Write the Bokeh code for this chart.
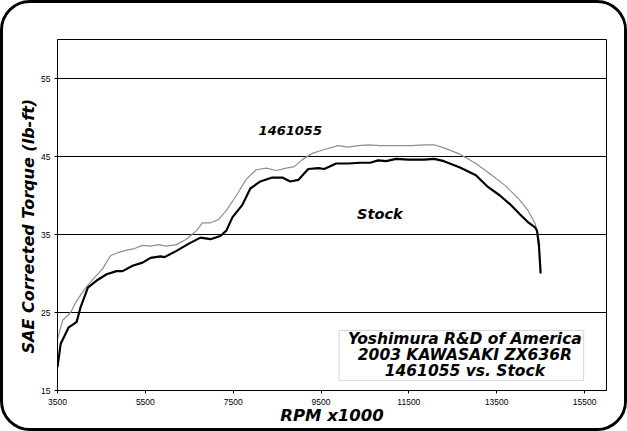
from bokeh.plotting import figure
from bokeh.models import FixedTicker, Range1d, BoxAnnotation, Label
from bokeh.embed import file_html
from bokeh.resources import INLINE

# ---- data ----
stock_rpm = [3500, 3573, 3755, 3891, 3936, 4027, 4191, 4391, 4618, 4845, 4982, 5209, 5436,
             5618, 5845, 5936, 6209, 6482, 6755, 6982, 7209, 7345, 7482, 7709, 7891, 8118,
             8391, 8618, 8800, 8982, 9209, 9436, 9573, 9845, 10118, 10391, 10618, 10800,
             10982, 11209, 11482, 11845, 12073, 12300, 12664, 13027, 13300, 13573, 13800,
             14027, 14209, 14373, 14418, 14464, 14500]
stock_tq = [18.0, 21.0, 23.1, 23.6, 23.8, 25.7, 28.2, 29.1, 29.9, 30.3, 30.3, 31.0, 31.4,
            32.0, 32.2, 32.1, 32.9, 33.8, 34.6, 34.4, 34.8, 35.5, 37.2, 38.8, 40.9, 41.8,
            42.3, 42.3, 41.8, 42.0, 43.4, 43.5, 43.4, 44.1, 44.1, 44.2, 44.2, 44.5,
            44.4, 44.7, 44.6, 44.6, 44.7, 44.4, 43.6, 42.6, 41.1, 40.0, 38.9,
            37.6, 36.6, 35.9, 35.5, 33.4, 30.0]

mod_rpm = [3500, 3618, 3800, 3936, 4118, 4345, 4527, 4709, 4891, 5073, 5255, 5436, 5618,
           5800, 5982, 6209, 6436, 6664, 6800, 6982, 7164, 7345, 7573, 7800, 8027, 8255,
           8482, 8709, 8891, 9073, 9300, 9573, 9891, 10118, 10345, 10573, 10845, 11300,
           11573, 11845, 12073, 12300, 12664, 13027, 13391, 13709, 14027, 14209, 14373,
           14436, 14482]
mod_tq = [21.6, 24.0, 25.0, 26.5, 28.0, 29.5, 30.6, 32.3, 32.7, 33.0, 33.2, 33.6, 33.5,
          33.7, 33.5, 33.7, 34.4, 35.5, 36.5, 36.5, 36.9, 38.1, 40.0, 42.1, 43.3, 43.5,
          43.2, 43.5, 43.7, 44.6, 45.4, 45.9, 46.4, 46.2, 46.4, 46.5, 46.4, 46.4,
          46.4, 46.5, 46.5, 46.1, 45.3, 44.1, 42.6, 41.2, 39.4, 38.1, 36.4,
          35.1, 33.6]

x_ticks = [3500, 5500, 7500, 9500, 11500, 13500, 15500]
y_ticks = [15, 25, 35, 45, 55]

FONT = "DejaVu Sans"

p = figure(width=627, height=431, output_backend="svg", toolbar_location=None,
           x_range=Range1d(3500, 16000), y_range=Range1d(15, 60),
           min_border_left=54, min_border_right=24, min_border_top=36, min_border_bottom=44)
p.styles = {"border": "3px solid black", "border-radius": "30px", "box-sizing": "border-box",
            "overflow": "hidden"}
p.background_fill_color = "white"
p.border_fill_color = "white"
p.outline_line_color = "black"
p.outline_line_width = 1

p.xgrid.visible = False
p.ygrid.ticker = FixedTicker(ticks=y_ticks)
p.ygrid.grid_line_color = "black"
p.ygrid.grid_line_width = 1

for ax in (p.xaxis, p.yaxis):
    ax.axis_line_color = "black"
    ax.major_tick_line_color = "black"
    ax.minor_tick_line_color = None
    ax.major_tick_in = 0
    ax.major_tick_out = 3
    ax.major_label_text_font = "Liberation Sans"
    ax.major_label_text_font_size = "8.5px"
    ax.major_label_text_color = "black"
    ax.axis_label_text_font = FONT
    ax.axis_label_text_font_style = "bold italic"
    ax.axis_label_text_color = "black"

p.xaxis.ticker = FixedTicker(ticks=x_ticks)
p.yaxis.ticker = FixedTicker(ticks=y_ticks)
p.xaxis.major_label_standoff = 5
p.yaxis.major_label_standoff = 4
p.xaxis.axis_label = "RPM x1000"
p.yaxis.axis_label = "SAE Corrected Torque (lb-ft)\u00a0\u00a0\u00a0\u00a0"
p.xaxis.axis_label_text_font_size = "16.5px"
p.yaxis.axis_label_text_font_size = "16px"
p.xaxis.axis_label_standoff = -2
p.yaxis.axis_label_standoff = 0

p.line(mod_rpm, mod_tq, line_color="#8f8f8f", line_width=1.2)
p.line(stock_rpm, stock_tq, line_color="black", line_width=2.2)

p.add_layout(Label(x=8800, y=48.3, text="1461055", text_font=FONT, text_font_style="bold italic",
                   text_font_size="13px", text_align="center", text_baseline="middle",
                   text_color="black"))
p.add_layout(Label(x=10840, y=37.6, text="Stock", text_font=FONT, text_font_style="bold italic",
                   text_font_size="14.5px", text_align="center", text_baseline="middle",
                   text_color="black"))

p.add_layout(BoxAnnotation(left=9910, right=15480, bottom=16.3, top=22.7,
                           fill_color="white", fill_alpha=1, line_color="#777777", line_width=1))
for ty, t in [(21.65, "Yoshimura R&D of America"), (19.5, "2003 KAWASAKI ZX636R"),
              (17.55, "1461055 vs. Stock")]:
    p.add_layout(Label(x=12775, y=ty, text=t, text_font=FONT, text_font_style="bold italic",
                       text_font_size="15.5px", text_align="center", text_baseline="middle",
                       text_color="black"))

open("out.html", "w").write(file_html(p, INLINE))
